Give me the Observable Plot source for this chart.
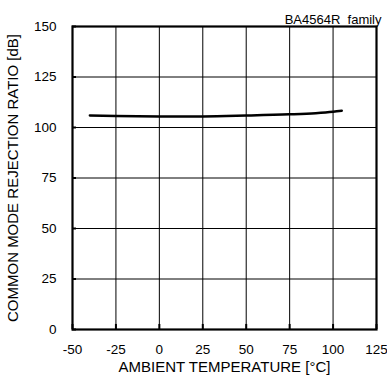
<!DOCTYPE html>
<html><head><meta charset="utf-8">
<script src="https://cdn.jsdelivr.net/npm/d3@7"></script>
<script src="https://cdn.jsdelivr.net/npm/@observablehq/plot@0.6"></script>
<style>body{margin:0;background:#fff}</style>
</head><body>
<div id="chart"></div>
<script>
const temps = [-40, -25, 0, 25, 50, 75, 90, 100, 105];
const cmrr = [106, 105.7, 105.5, 105.5, 105.9, 106.5, 107.1, 107.8, 108.3];
const xTicks = [-50, -25, 0, 25, 50, 75, 100, 125];
const yTicks = [0, 25, 50, 75, 100, 125, 150];
const title = "BA4564R  family";
const data = temps.map((t, i) => ({t, v: cmrr[i]}));

const chart = Plot.plot({
  width: 387, height: 378,
  marginLeft: 72, marginRight: 11, marginTop: 26, marginBottom: 49,
  style: {fontFamily: "Liberation Sans, Arial, sans-serif", fontSize: "13px", color: "#000", background: "#fff"},
  x: {domain: [-50, 125]},
  y: {domain: [0, 150]},
  marks: [
    Plot.gridX(xTicks, {stroke: "#000", strokeOpacity: 1, strokeWidth: 1}),
    Plot.gridY(yTicks, {stroke: "#000", strokeOpacity: 1, strokeWidth: 1}),
    Plot.ruleX(xTicks, {x: d => d, y1: 0, y2: 2.5, stroke: "#000", strokeWidth: 2}),
    Plot.ruleY(yTicks, {y: d => d, x1: -50, x2: -47.7, stroke: "#000", strokeWidth: 2}),
    Plot.axisX(xTicks, {tickSize: 0, tickPadding: 15, fontSize: 13.5, tickFormat: d => String(d), label: null}),
    Plot.axisY(yTicks, {tickSize: 0, tickPadding: 16, fontSize: 13.5, tickFormat: d => String(d), label: null}),
    Plot.axisX({ticks: [], label: "AMBIENT TEMPERATURE [°C]", labelAnchor: "center", labelArrow: "none", labelOffset: 42, fontSize: 15}),
    Plot.axisY({ticks: [], label: "COMMON MODE REJECTION RATIO [dB]", labelAnchor: "center", labelArrow: "none", labelOffset: 65, fontSize: 15}),
    Plot.frame({stroke: "#000", strokeWidth: 2.2}),
    Plot.line(data, {x: "t", y: "v", stroke: "#000", strokeWidth: 2.5, curve: "monotone-x"}),
    Plot.text([title], {text: d => d, frameAnchor: "top-right", dy: -12, dx: 5, fontSize: 13, textAnchor: "end"})
  ]
});
document.getElementById("chart").appendChild(chart);
</script>
</body></html>
